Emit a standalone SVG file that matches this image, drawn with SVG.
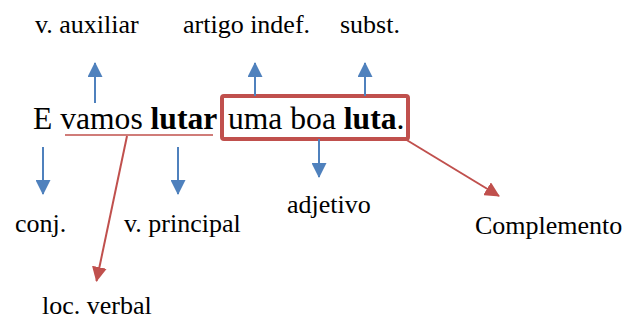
<svg xmlns="http://www.w3.org/2000/svg" width="627" height="320" viewBox="0 0 627 320" font-family="'Liberation Serif', 'Times New Roman', 'DejaVu Serif', serif">
<style>
text{font-family:'Liberation Serif','Times New Roman','DejaVu Serif',serif;fill:#000}
.lbl{font-size:26px}
.main{font-size:31.6px}
.b{font-weight:bold}
.blue{stroke:#4F81BD;stroke-width:2;fill:none}
.red{stroke:#C0504D;stroke-width:2;fill:none}
</style>
<defs>
<marker id="ab" markerUnits="userSpaceOnUse" viewBox="0 0 15 15" markerWidth="15" markerHeight="15" refX="14" refY="7.5" orient="auto"><path d="M0,0 L15,7.5 L0,15 z" fill="#4F81BD"/></marker>
<marker id="ar" markerUnits="userSpaceOnUse" viewBox="0 0 15 15" markerWidth="15" markerHeight="15" refX="14" refY="7.5" orient="auto"><path d="M0,0 L15,7.5 L0,15 z" fill="#C0504D"/></marker>
</defs>
<g id="sentence">
<text class="main" x="33" y="129">E vamos <tspan class="b">lutar</tspan><tspan x="228">uma boa </tspan><tspan class="b">luta</tspan>.</text>
<line x1="65" y1="135" x2="213" y2="135" stroke="#C0504D" stroke-width="1.5"/>
<rect x="222" y="96" width="186" height="43" rx="2" fill="none" stroke="#C0504D" stroke-width="4"/>
</g>
<g id="connectors">
<path class="blue" d="M95,103 V63" marker-end="url(#ab)"/>
<path class="blue" d="M255,96 V63" marker-end="url(#ab)"/>
<path class="blue" d="M365,96 V63" marker-end="url(#ab)"/>
<path class="blue" d="M43,147 V194" marker-end="url(#ab)"/>
<path class="blue" d="M178,147 V194" marker-end="url(#ab)"/>
<path class="blue" d="M319,139 V177" marker-end="url(#ab)"/>
<path class="red" d="M127,136 L96.5,281" marker-end="url(#ar)"/>
<path class="red" d="M405,139 L499,196" marker-end="url(#ar)"/>
</g>
<g id="n-vaux"><text class="lbl" x="35" y="33">v. auxiliar</text></g>
<g id="n-artigo"><text class="lbl" x="183" y="33">artigo indef.</text></g>
<g id="n-subst"><text class="lbl" x="340" y="33">subst.</text></g>
<g id="n-conj"><text class="lbl" x="15" y="232">conj.</text></g>
<g id="n-vprinc"><text class="lbl" x="124" y="232">v. principal</text></g>
<g id="n-adj"><text class="lbl" x="287" y="213">adjetivo</text></g>
<g id="n-compl"><text class="lbl" x="475" y="234">Complemento</text></g>
<g id="n-loc"><text class="lbl" x="42" y="314">loc. verbal</text></g>
</svg>
